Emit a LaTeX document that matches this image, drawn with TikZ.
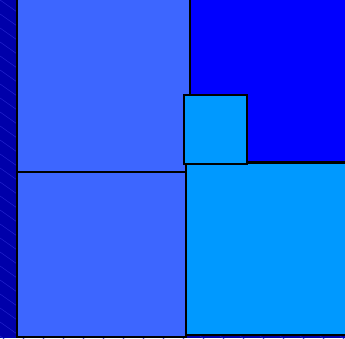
\documentclass[tikz,border=0pt]{standalone}
\definecolor{bgdark}{RGB}{0,0,170}
\definecolor{hatch}{RGB}{35,35,205}
\definecolor{royal}{RGB}{61,102,255}
\definecolor{pureblue}{RGB}{0,0,255}
\definecolor{sky}{RGB}{0,153,255}
\begin{document}
\begin{tikzpicture}[x=1pt,y=-1pt,
  panel/.style={draw=black,line width=2pt}]
\useasboundingbox (0,0) rectangle (345,338);
\fill[bgdark] (0,0) rectangle (345,338);
\begin{scope}
\clip (0,0) rectangle (345,338);
\foreach \k in {-40,...,30}{
  \draw[hatch,line width=0.5pt] (0,{\k*14}) -- (400,{\k*14+280});
}
\end{scope}
\draw[panel,fill=royal] (17,-3) rectangle (190,172);
\draw[panel,fill=royal] (17,172) rectangle (186,337);
\draw[panel,fill=pureblue] (190,-3) rectangle (348,162);
\draw[panel,fill=sky] (186,163) rectangle (348,335);
\draw[panel,fill=sky] (184,95) rectangle (247,164);
\end{tikzpicture}
\end{document}
